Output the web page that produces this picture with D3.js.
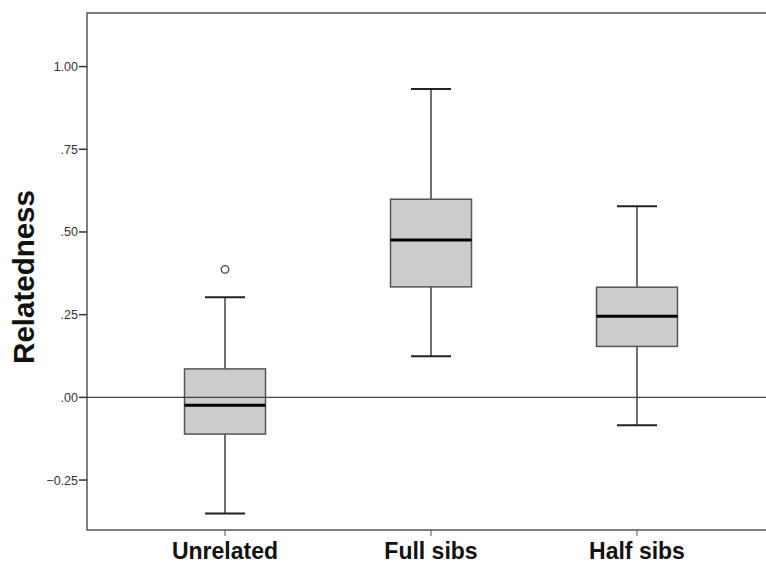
<!DOCTYPE html>
<html>
<head>
<meta charset="utf-8">
<script src="https://cdn.jsdelivr.net/npm/d3@7"></script>
<style>
  body { margin: 0; background: #fff; }
  svg { font-family: "Liberation Sans", Arial, sans-serif; display: block; }
</style>
</head>
<body>
<script>
let width = 766;
let height = 563;

// data
let groups = ["Unrelated", "Full sibs", "Half sibs"];
let whiskerLow = [-0.351, 0.124, -0.084];
let q1 = [-0.111, 0.334, 0.154];
let median = [-0.024, 0.476, 0.245];
let q3 = [0.086, 0.599, 0.333];
let whiskerHigh = [0.303, 0.932, 0.578];
let outliers = [[0.387], [], []];
let yTicks = [-0.25, 0, 0.25, 0.5, 0.75, 1.0];

let plotLeft = 87, plotTop = 13, plotBottom = 530, plotRight = 775;

let svg = d3.select("body").append("svg").attr("width", width).attr("height", height);

let x = d3.scalePoint().domain(groups).range([plotLeft, plotRight]).padding(0.67);
let y = d3.scaleLinear().domain([-0.401, 1.162]).range([plotBottom, plotTop]);

let fmt = (v) => {
  let s = d3.format(".2f")(v);
  return s.replace(/^0\./, ".").replace(/^-0\./, "-.");
};

// frame
svg.append("path")
  .attr("d", `M${plotRight},${plotTop}H${plotLeft}V${plotBottom}H${plotRight}`)
  .attr("fill", "none").attr("stroke", "#555").attr("stroke-width", 1.5);

// y axis ticks
let yAxis = svg.append("g");
yTicks.forEach((t) => {
  yAxis.append("line").attr("x1", plotLeft - 8).attr("x2", plotLeft).attr("y1", y(t)).attr("y2", y(t))
    .attr("stroke", "#333").attr("stroke-width", 1.5);
  yAxis.append("text").attr("x", plotLeft - 9).attr("y", y(t)).attr("dy", "0.36em")
    .attr("text-anchor", "end").attr("font-size", 12.5).attr("fill", "#333").text(fmt(t));
});

// x ticks
groups.forEach((g) => {
  svg.append("line").attr("x1", x(g)).attr("x2", x(g)).attr("y1", plotBottom).attr("y2", plotBottom + 6)
    .attr("stroke", "#555").attr("stroke-width", 1);
  svg.append("text").attr("x", x(g)).attr("y", 559).attr("text-anchor", "middle")
    .attr("font-size", 23).attr("font-weight", "bold").attr("fill", "#111").text(g);
});

// y label
svg.append("text").attr("transform", `translate(34,277) rotate(-90)`)
  .attr("text-anchor", "middle").attr("font-size", 29.5).attr("font-weight", "bold")
  .attr("fill", "#111").text("Relatedness");

let boxW = 81, capW = 40;

// boxes
groups.forEach((g, i) => {
  let cx = x(g);
  let gg = svg.append("g");
  gg.append("line").attr("x1", cx).attr("x2", cx).attr("y1", y(whiskerHigh[i])).attr("y2", y(q3[i]))
    .attr("stroke", "#222").attr("stroke-width", 1.3);
  gg.append("line").attr("x1", cx).attr("x2", cx).attr("y1", y(q1[i])).attr("y2", y(whiskerLow[i]))
    .attr("stroke", "#222").attr("stroke-width", 1.3);
  [whiskerHigh[i], whiskerLow[i]].forEach((w) => {
    gg.append("line").attr("x1", cx - capW / 2).attr("x2", cx + capW / 2).attr("y1", y(w)).attr("y2", y(w))
      .attr("stroke", "#222").attr("stroke-width", 2);
  });
  gg.append("rect").attr("x", cx - boxW / 2).attr("width", boxW)
    .attr("y", y(q3[i])).attr("height", y(q1[i]) - y(q3[i]))
    .attr("fill", "#cccccc").attr("stroke", "#555").attr("stroke-width", 1.5);
  outliers[i].forEach((o) => {
    gg.append("circle").attr("cx", cx).attr("cy", y(o)).attr("r", 3.8)
      .attr("fill", "#fff").attr("stroke", "#444").attr("stroke-width", 1.3);
  });
});

// zero reference line
svg.append("line").attr("x1", plotLeft).attr("x2", plotRight).attr("y1", y(0)).attr("y2", y(0))
  .attr("stroke", "#444").attr("stroke-width", 1.2);

// medians
groups.forEach((g, i) => {
  let cx = x(g);
  svg.append("line").attr("x1", cx - boxW / 2).attr("x2", cx + boxW / 2)
    .attr("y1", y(median[i])).attr("y2", y(median[i]))
    .attr("stroke", "#000").attr("stroke-width", 3);
});
</script>
</body>
</html>
